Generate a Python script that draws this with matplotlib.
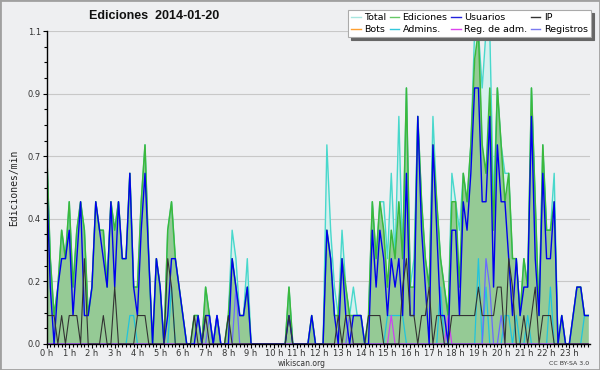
import matplotlib
matplotlib.use('Agg')
import matplotlib.pyplot as plt
import numpy as np
from matplotlib.lines import Line2D
from matplotlib.patches import Rectangle
from matplotlib.ticker import MultipleLocator, FixedLocator, FuncFormatter

# edits per 10-minute bin, 2014-01-20 (144 bins, 6 per hour)
total = [7, 3, 1, 2, 4, 3,  5, 2, 4, 5, 4, 1,  2, 5, 4, 4, 2, 5,  4, 5, 3, 3, 6, 2,
         2, 5, 7, 3, 0, 3,  2, 0, 4, 5, 3, 2,  1, 0, 0, 1, 1, 0,  2, 1, 0, 1, 0, 0,
         1, 4, 3, 1, 1, 3,  0, 0, 0, 0, 0, 0,  0, 0, 0, 0, 2, 0,  0, 0, 0, 0, 1, 0,
         0, 0, 7, 4, 2, 1,  4, 2, 1, 2, 1, 1,  0, 1, 5, 3, 5, 5,  3, 6, 3, 8, 3, 9,
         2, 3, 8, 5, 3, 2,  8, 5, 3, 2, 1, 6,  5, 4, 6, 5, 7, 11, 11, 9, 11, 11, 5, 9,
         7, 6, 6, 3, 3, 1,  3, 2, 9, 5, 1, 7,  4, 4, 6, 0, 1, 0,  0, 1, 2, 2, 1, 1]
ediciones = [7, 3, 1, 2, 4, 3,  5, 2, 4, 5, 4, 1,  2, 5, 4, 4, 2, 5,  4, 5, 3, 3, 6, 2,
             2, 5, 7, 3, 0, 3,  2, 0, 4, 5, 3, 2,  1, 0, 0, 1, 1, 0,  2, 1, 0, 1, 0, 0,
             1, 3, 2, 1, 1, 2,  0, 0, 0, 0, 0, 0,  0, 0, 0, 0, 2, 0,  0, 0, 0, 0, 1, 0,
             0, 0, 4, 3, 1, 1,  3, 2, 1, 1, 1, 1,  0, 1, 5, 3, 5, 4,  2, 4, 3, 5, 3, 9,
             2, 2, 8, 5, 3, 2,  7, 5, 3, 2, 1, 5,  5, 2, 6, 5, 7, 10, 11, 7, 6, 9, 4, 9,
             7, 5, 6, 3, 3, 1,  3, 2, 9, 5, 1, 7,  4, 4, 5, 0, 1, 0,  0, 1, 2, 2, 1, 1]
usuarios = [6, 2, 0, 2, 3, 3,  4, 1, 3, 5, 1, 1,  2, 5, 4, 3, 2, 5,  2, 5, 3, 3, 6, 2,
            1, 4, 6, 3, 0, 3,  2, 0, 1, 3, 3, 2,  1, 0, 0, 0, 1, 0,  1, 1, 0, 1, 0, 0,
            0, 3, 2, 1, 1, 2,  0, 0, 0, 0, 0, 0,  0, 0, 0, 0, 1, 0,  0, 0, 0, 0, 1, 0,
            0, 0, 4, 3, 1, 0,  3, 1, 0, 1, 1, 1,  0, 0, 4, 2, 4, 3,  1, 3, 2, 3, 1, 6,
            1, 1, 8, 4, 2, 0,  7, 4, 1, 1, 0, 4,  4, 1, 5, 4, 6, 9,  9, 5, 5, 8, 2, 7,
            5, 5, 3, 1, 3, 1,  2, 2, 8, 3, 1, 6,  3, 3, 5, 0, 1, 0,  0, 1, 2, 2, 1, 1]
ip = [1, 1, 1, 0, 1, 0,  1, 1, 1, 0, 3, 0,  0, 0, 0, 1, 0, 0,  2, 0, 0, 0, 0, 0,
      1, 1, 1, 0, 0, 0,  0, 0, 3, 2, 0, 0,  0, 0, 0, 1, 0, 0,  1, 0, 0, 0, 0, 0,
      1, 0, 0, 0, 0, 0,  0, 0, 0, 0, 0, 0,  0, 0, 0, 0, 1, 0,  0, 0, 0, 0, 0, 0,
      0, 0, 0, 0, 0, 1,  0, 1, 1, 0, 0, 0,  0, 1, 1, 1, 1, 0,  0, 0, 0, 0, 2, 3,
      1, 1, 0, 1, 1, 2,  0, 1, 1, 0, 0, 1,  1, 1, 1, 1, 1, 1,  2, 1, 1, 1, 1, 2,
      2, 0, 3, 2, 0, 0,  1, 0, 1, 2, 0, 1,  1, 1, 0, 0, 0, 0,  0, 0, 0, 0, 0, 0]
admins = [0] * 22 + [1, 1] + [0] * 9 + [2] + [0] * 56 + [1, 1, 1, 1, 1, 0] + \
         [0] * 6 + [0, 0, 2, 0, 0, 0] + [0] * 6 + [3, 0, 2, 0, 0, 0] + \
         [0, 1, 1, 0, 1, 0] + [0, 1, 0, 0, 0, 0] + [0, 2, 0, 0, 0, 0] + [0, 0, 0, 0, 1, 1]
registros = [0] * 43 + [1, 0, 1] + [0] * 4 + [2] + [0] * 29 + [1] + [0] * 35 + \
            [3, 2, 0, 0, 1] + [0] * 23
reg_adm = [0] * 91 + [1] + [0] * 14 + [1] + [0] * 37
bots = [0] * 144

hours = np.arange(144) / 6.0
per_min = lambda s: np.array(s) / 10.0

BG = '#eeeff1'
fig = plt.figure(figsize=(6, 3.7), dpi=100)
fig.patch.set_facecolor(BG)
ax = fig.add_axes([0.0775, 0.0703, 0.9055, 0.8457])
ax.set_facecolor(BG)

ax.plot(hours, per_min(bots), color='#ffa030', lw=0.8, zorder=1)
ax.fill_between(hours, per_min(total), color='#d6f0ee', lw=0, zorder=2)
ax.fill_between(hours, per_min(ediciones), color='#95ca95', lw=0, zorder=2.1)
ax.plot(hours, per_min(total), color='#48d8cc', lw=1.0, zorder=3)
ax.plot(hours, per_min(ediciones), color='#3cb83c', lw=1.1, zorder=3.1)
ax.plot(hours, per_min(admins), color='#22c4dc', lw=0.9, zorder=3.2)
ax.plot(hours, per_min(registros), color='#6a6aff', lw=0.9, zorder=3.3)
ax.plot(hours, per_min(reg_adm), color='#cc44ee', lw=0.9, zorder=3.4)
ax.plot(hours, per_min(usuarios), color='#0000ee', lw=1.0, zorder=3.5)
ax.plot(hours, per_min(ip), color='#333333', lw=0.8, zorder=3.6)

ax.set_xlim(0, 23.9)
ax.set_ylim(0, 1.1)
for s in ['top', 'right']:
    ax.spines[s].set_visible(False)
for s in ['left', 'bottom']:
    ax.spines[s].set_color('black')
    ax.spines[s].set_linewidth(1.0)
    ax.spines[s].set_zorder(5)

ax.yaxis.set_major_locator(FixedLocator([0, 0.22, 0.44, 0.66, 0.88, 1.1]))
ax.yaxis.set_major_formatter(FuncFormatter(lambda v, p: '%.1f' % v))
ax.yaxis.set_minor_locator(MultipleLocator(0.055))
ax.xaxis.set_major_locator(FixedLocator(range(24)))
ax.set_xticklabels(['%d h' % h for h in range(24)])
ax.xaxis.set_minor_locator(MultipleLocator(1 / 6))
ax.tick_params(which='both', direction='out', color='black', width=0.8,
               labelsize=6, labelcolor='#333333', pad=1.0)
ax.tick_params(axis='x', which='both', pad=0.3)
ax.tick_params(which='major', length=3.0)
ax.tick_params(which='minor', length=2.5)
ax.grid(axis='y', which='major', color='#c8c8c8', lw=0.8, zorder=0)
ax.set_axisbelow(True)

ax.set_ylabel('Ediciones/min', fontsize=7, family='DejaVu Sans Mono', color='#222222',
              labelpad=6)

fig.text(0.257, 0.957, 'Ediciones  2014-01-20', fontsize=9, fontweight='bold',
         family='Liberation Sans', ha='center', va='center', color='#111111')
fig.text(0.502, 0.018, 'wikiscan.org', fontsize=5.5, ha='center', va='center',
         color='#333333')
fig.text(0.982, 0.018, 'CC BY-SA 3.0', fontsize=4.5, ha='right', va='center',
         color='#333333')

handles = [
    Line2D([], [], color='#a8e6e0', lw=1), Line2D([], [], color='#ffa030', lw=1),
    Line2D([], [], color='#66c866', lw=1), Line2D([], [], color='#33c8dc', lw=1),
    Line2D([], [], color='#2222dd', lw=1), Line2D([], [], color='#dd44ee', lw=1),
    Line2D([], [], color='#333333', lw=1), Line2D([], [], color='#7a7af0', lw=1),
]
labels = ['Total', 'Bots', 'Ediciones', 'Admins.', 'Usuarios', 'Reg. de adm.',
          'IP', 'Registros']
leg = fig.legend(handles, labels, ncol=4, loc='upper right',
                 bbox_to_anchor=(0.985, 0.973), bbox_transform=fig.transFigure,
                 fontsize=6.8, frameon=True, fancybox=False,
                 shadow={'color': '#666666', 'alpha': 1.0},
                 handlelength=1.0, handletextpad=0.35, columnspacing=0.4,
                 labelspacing=0.3, borderpad=0.35, borderaxespad=0)
leg.get_frame().set_facecolor('white')
leg.get_frame().set_edgecolor('#aaaaaa')
leg.get_frame().set_linewidth(0.8)
leg.set_zorder(10)

fig.patches.append(Rectangle((0, 0), 1, 1, transform=fig.transFigure, fill=False,
                             ec='#a0a0a0', lw=2))

fig.savefig('out.png', dpi=100, facecolor=BG)
